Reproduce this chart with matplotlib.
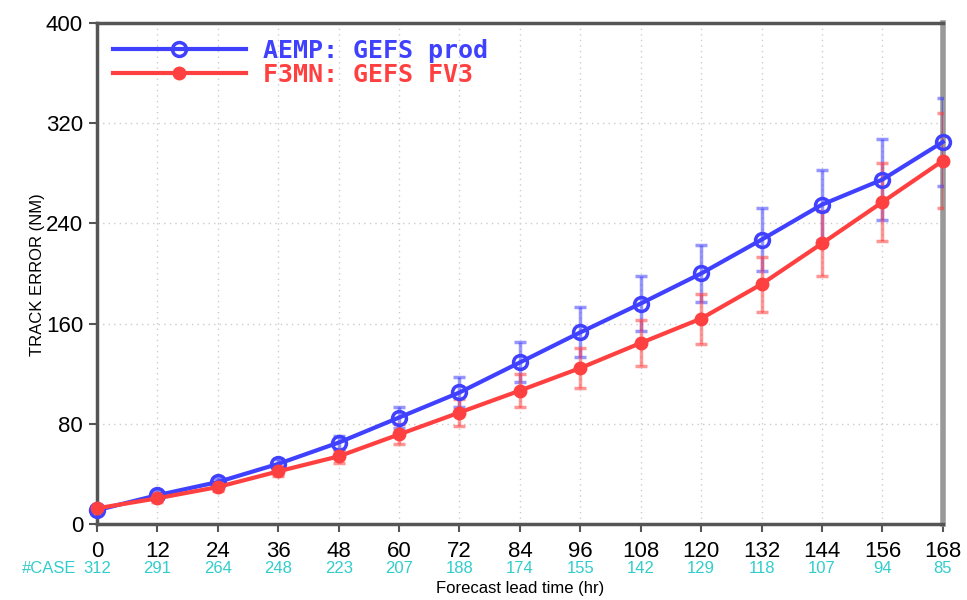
import matplotlib
matplotlib.use("Agg")
import matplotlib.pyplot as plt
from matplotlib.transforms import blended_transform_factory

lead = [0, 12, 24, 36, 48, 60, 72, 84, 96, 108, 120, 132, 144, 156, 168]
cases = [312, 291, 264, 248, 223, 207, 188, 174, 155, 142, 129, 118, 107, 94, 85]
aemp = [11, 23, 33.5, 48, 65, 85, 105, 129, 153, 176, 200, 227, 255, 275, 305]
aemp_err = [2, 3, 3, 4, 5, 8, 12, 16, 20, 22, 23, 25, 28, 32, 35]
f3mn = [12.5, 20.5, 29.5, 42, 54, 71.5, 89, 106.5, 124.5, 144.5, 164, 191.5, 224, 257, 290]
f3mn_err = [2, 3, 3, 4, 5, 8, 11, 13, 16, 18, 20, 22, 26, 31, 38]
yticks = [0, 80, 160, 240, 320, 400]

blue = "#4040ff"
red = "#ff4040"

fig = plt.figure(figsize=(9.67, 6.0), dpi=100)
ax = fig.add_axes([0.1003, 0.1267, 0.8747, 0.835])

ax.errorbar(lead, aemp, yerr=aemp_err, fmt="none", ecolor=blue, alpha=0.55,
            elinewidth=2.5, capsize=4, capthick=2.5, zorder=3)
ax.errorbar(lead, f3mn, yerr=f3mn_err, fmt="none", ecolor=red, alpha=0.55,
            elinewidth=2.5, capsize=4, capthick=2.5, zorder=3)
ax.plot(lead, aemp, color=blue, lw=3, marker="o", ms=10, mfc="none", mew=2.5,
        label="AEMP: GEFS prod", zorder=4, clip_on=False)
ax.plot(lead, f3mn, color=red, lw=3, marker="o", ms=9, mfc=red, mec=red,
        label="F3MN: GEFS FV3", zorder=4, clip_on=False)

ax.set_xlim(0, 168)
ax.set_ylim(0, 400)
ax.set_xticks(lead)
ax.set_yticks(yticks)
ax.grid(True, color="#cccccc", linestyle=(0, (1, 3)), lw=1)
for s in ax.spines.values():
    s.set_color("#555555")
    s.set_linewidth(2.5)
ax.spines["right"].set_color("#999999")
ax.spines["right"].set_linewidth(4)
ax.tick_params(direction="out", length=6, width=1.5, color="#555555",
               labelsize=16, pad=4)
ax.tick_params(axis="x", pad=6)
for lab in ax.get_xticklabels() + ax.get_yticklabels():
    lab.set_family("Liberation Sans")

trans = blended_transform_factory(ax.transData, ax.transAxes)
for x, c in zip(lead, cases):
    ax.text(x, -0.088, str(c), transform=trans, ha="center", va="center",
            color="#33cccc", fontsize=12, family="Liberation Sans")
ax.text(-4, -0.088, "#CASE", transform=trans, ha="right", va="center",
        color="#33cccc", fontsize=12, family="Liberation Sans")
ax.text(0.5, -0.128, "Forecast lead time (hr)", transform=ax.transAxes,
        ha="center", va="center", fontsize=12, family="Liberation Sans")
fig.text(0.039, 0.542, "TRACK ERROR (NM)", rotation=90, ha="center", va="center",
         fontsize=12, family="Liberation Sans")

leg = ax.legend(loc="upper left", frameon=False, prop={"family": "DejaVu Sans Mono",
                "weight": "bold", "size": 18}, handlelength=5.3, handletextpad=0.68,
                borderaxespad=0.25, labelspacing=0.0)
for txt, col in zip(leg.get_texts(), [blue, red]):
    txt.set_color(col)

fig.savefig("out.png", dpi=100)
